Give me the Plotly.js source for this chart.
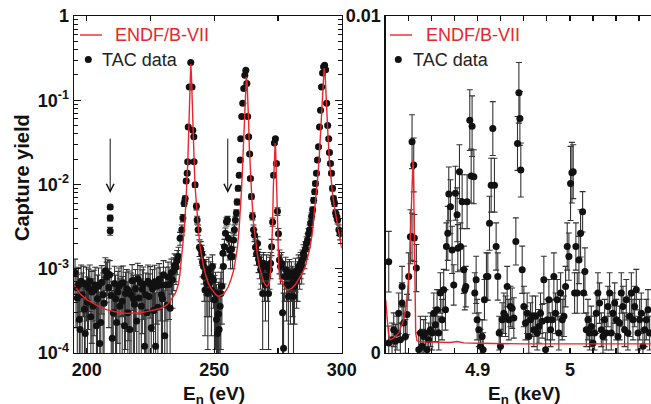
<!DOCTYPE html>
<html><head><meta charset="utf-8">
<script src="https://cdn.plot.ly/plotly-3.0.1.min.js"></script>
<style>html,body{margin:0;padding:0;overflow:hidden;background:#fff;width:651px;height:404px}</style>
</head><body><div id="chart" style="width:664px;height:404px"></div>
<script>
// ---------- Left panel: TAC data (E in eV, capture yield) ----------
const leftE = [195.4,195.8,196.3,196.7,197.1,197.4,197.8,198.2,198.7,199.1,199.4,199.9,200.3,200.7,201.2,201.6,202.0,202.5,202.9,203.3,203.8,204.2,204.6,205.1,205.5,205.9,206.4,206.8,207.3,207.8,208.2,208.7,209.0,209.2,209.2,209.2,209.6,210.0,210.4,210.9,211.3,211.7,212.2,212.6,213.0,213.5,213.9,214.3,214.8,215.2,215.7,216.1,216.5,216.9,217.4,217.8,218.3,218.7,219.1,219.6,220.0,220.5,220.9,221.4,221.8,222.2,222.7,223.1,223.6,224.0,224.4,224.9,225.3,225.8,226.2,226.6,227.0,227.5,227.9,228.4,228.8,229.3,229.7,230.1,230.6,231.0,231.5,231.9,232.3,232.7,233.2,233.6,234.1,234.5,235.0,235.5,236.0,
236.6,237.3,237.7,238.2,238.6,239.0,239.4,239.6,239.8,240.2,240.8,241.3,241.6,242.0,242.1,242.5,243.0,243.3,243.7,244.2,244.7,245.1,245.4,
245.8,246.1,246.4,246.8,247.1,247.5,247.9,248.1,248.5,248.9,249.3,249.7,250.1,250.5,250.9,251.3,251.7,251.9,252.3,252.6,253.0,253.4,253.6,254.0,254.4,254.8,255.2,255.6,256.0,256.4,256.8,257.2,257.6,257.9,258.3,258.7,259.0,259.4,259.8,
260.2,260.4,260.8,261.2,261.6,262.0,262.4,262.8,263.1,263.5,263.9,264.2,264.6,265.0,265.4,265.8,266.2,266.6,267.0,267.4,267.8,268.2,268.6,269.0,269.3,269.7,270.1,270.5,270.9,271.3,271.7,272.1,272.5,272.9,273.3,273.6,274.0,274.4,274.8,275.2,275.6,276.0,276.4,276.8,277.2,277.6,278.0,278.4,278.8,279.1,279.5,279.9,280.3,280.7,281.1,281.5,281.9,282.3,282.7,283.1,283.5,283.9,284.3,284.6,285.0,285.4,285.8,286.2,286.6,287.0,287.4,287.8,288.2,288.6,289.0,289.4,289.7,290.1,290.5,290.9,291.3,291.7,292.1,292.5,292.9,293.3,293.7,294.1,294.5,294.9,295.2,295.6,296.0,296.4,296.8,297.2,297.6,298.0,298.4,298.9,299.4];
const leftY = [0.00090,0.00060,0.00045,0.00064,0.00025,0.00019,0.00071,0.00049,0.00067,0.00033,0.00017,0.00064,0.00040,0.00059,0.00071,0.00027,0.00053,0.00036,0.00056,0.00064,0.00021,0.00044,0.00062,0.00013,0.00023,0.00069,0.00049,0.00039,0.00095,0.00080,0.00088,0.00060,0.00085,0.0054,0.0040,0.0028,0.00048,0.00015,0.00030,0.00067,0.00044,0.00023,0.00053,0.00062,0.00036,0.00067,0.00041,0.00068,0.00021,0.00051,0.00058,0.00030,0.00054,0.00019,0.00049,0.00072,0.00044,0.00038,0.00058,0.00024,0.00076,0.00045,0.00069,0.00036,0.00057,0.00065,0.00012,0.00049,0.00030,0.00071,0.00047,0.00066,0.00020,0.00058,0.00032,0.00070,0.00012,0.00062,0.00035,0.00075,0.00064,0.00049,0.00044,0.00085,0.00016,0.00064,0.00037,0.00080,0.00065,0.00034,0.00090,0.00074,0.00095,0.00110,0.00105,0.00125,0.0014,
0.0023,0.0029,0.0040,0.0060,0.0068,0.0110,0.0136,0.0186,0.048,0.144,0.28,0.144,0.044,0.037,0.0186,0.0099,0.0055,0.0038,0.0029,0.0018,0.0017,0.0015,0.0012,
0.00106,0.00081,0.00056,0.00089,0.00067,0.00051,0.00097,0.00067,0.00081,0.00056,0.00106,0.00074,0.00043,0.00051,0.00025,0.00017,0.00029,0.00019,0.00036,0.00051,0.00062,0.00153,0.00106,0.00183,0.00264,0.00362,0.00379,0.0023,0.00167,0.0014,0.0017,0.0014,0.0022,0.0029,0.0038,0.0046,0.0062,0.0090,0.0129,
0.0195,0.035,0.064,0.092,0.138,0.198,0.227,0.158,0.064,0.037,0.023,0.0118,0.0072,0.0042,0.0029,0.0025,0.0018,0.0015,0.0020,0.0013,0.00116,0.00097,0.00106,0.00051,0.00116,0.00081,0.00064,0.00106,0.00081,0.00051,0.00097,0.00116,0.00183,0.0036,0.0129,0.031,0.035,0.0178,0.0048,0.0026,0.00127,0.00106,0.00116,0.00030,0.000114,0.00081,0.00097,0.00064,0.00081,0.00047,0.00089,0.00062,0.00081,0.00067,0.00047,0.00062,0.00093,0.00074,0.00081,0.00106,0.00097,0.00116,0.00106,0.00127,0.00153,0.0014,0.0017,0.0020,0.0022,0.0026,0.0029,0.0035,0.0042,0.0050,0.0065,0.0082,0.0103,0.0136,0.0195,0.028,0.048,0.076,0.144,0.21,0.25,0.26,0.23,0.092,0.050,0.035,0.024,0.0178,0.0136,0.0090,0.0068,0.0060,0.0046,0.0042,0.0038,0.0029,0.0026];
const leftErr = [0.0004,0.0004,0.0004,0.0004,0.0004,0.0004,0.0004,0.0004,0.0004,0.0004,0.0004,0.0004,0.0004,0.0004,0.0004,0.0004,0.0004,0.0004,0.0004,0.0004,0.0004,0.0004,0.0004,0.0004,0.0004,0.0004,0.0004,0.0004,0.0004,0.0004,0.0004,0.0004,0.0004,0.0003,0.0003,0.0003,0.0004,0.0004,0.0004,0.0004,0.0004,0.0004,0.0004,0.0004,0.0004,0.0004,0.0004,0.0004,0.0004,0.0004,0.0004,0.0004,0.0004,0.0004,0.0004,0.0004,0.0004,0.0004,0.0004,0.0004,0.0004,0.0004,0.0004,0.0004,0.0004,0.0004,0.0004,0.0004,0.0004,0.0004,0.0004,0.0004,0.0004,0.0004,0.0004,0.0004,0.0004,0.0004,0.0004,0.0004,0.0004,0.0004,0.0004,0.0004,0.0004,0.0004,0.0004,0.0004,0.0004,0.0004,0.0004,0.0004,0.0004,0.0004,0.0004,0.0004,0.0004,
0.0004,0.0004,0.0004,0.0005,0.0005,0.0006,0.0007,0.0008,0.0015,0.004,0.007,0.004,0.0015,0.0012,0.0008,0.0006,0.0005,0.0004,0.0004,0.0004,0.0004,0.0004,0.0004,
0.0004,0.0004,0.0004,0.0004,0.0004,0.0004,0.0004,0.0004,0.0004,0.0004,0.0004,0.0004,0.0004,0.0004,0.0004,0.0004,0.0004,0.0004,0.0004,0.0004,0.0004,0.0004,0.0004,0.0004,0.0004,0.0004,0.0004,0.0004,0.0004,0.0004,0.0004,0.0004,0.0004,0.0004,0.0004,0.0004,0.0005,0.0006,0.0007,
0.0008,0.0012,0.002,0.003,0.004,0.005,0.006,0.004,0.002,0.0012,0.0008,0.0006,0.0005,0.0004,0.0004,0.0004,0.0004,0.0004,0.0004,0.0004,0.0004,0.0004,0.0004,0.0004,0.0004,0.0004,0.0004,0.0004,0.0004,0.0004,0.0004,0.0004,0.0004,0.0004,0.0007,0.0012,0.0012,0.0008,0.0005,0.0004,0.0004,0.0004,0.0004,0.0004,0.0004,0.0004,0.0004,0.0004,0.0004,0.0004,0.0004,0.0004,0.0004,0.0004,0.0004,0.0004,0.0004,0.0004,0.0004,0.0004,0.0004,0.0004,0.0004,0.0004,0.0004,0.0004,0.0004,0.0004,0.0004,0.0004,0.0004,0.0004,0.0004,0.0004,0.0005,0.0006,0.0006,0.0007,0.0008,0.001,0.0015,0.002,0.004,0.006,0.007,0.007,0.006,0.003,0.0015,0.0012,0.001,0.0008,0.0007,0.0006,0.0005,0.0005,0.0004,0.0004,0.0004,0.0004,0.0004];

// ---------- Left panel: ENDF/B-VII curve ----------
const endfLeftE = [195,197.5,200,202.5,205.2,208,210.5,213,215.7,218,220.9,223.5,226.1,228.5,230.1,231.5,232.7,233.8,234.7,235.4,236,236.5,237,237.5,237.9,238.3,238.6,238.9,239.25,239.6,239.9,240.1,240.3,240.55,240.8,241.05,241.3,241.6,241.9,242.2,242.5,243,243.4,244,244.5,245.2,245.8,246.7,247.7,248.7,249.7,250.7,251.7,252.6,253.6,254.6,255.6,256.6,257.5,258.3,259.1,259.7,260.2,260.7,261.1,261.4,261.7,262.0,262.2,262.4,262.6,262.9,263.2,263.5,263.8,264.3,264.8,265.4,266.1,266.9,267.7,268.5,269.3,270,270.6,271.2,271.7,272.2,272.6,272.9,273.2,273.5,273.7,273.9,274.1,274.4,274.7,275,275.3,275.6,276,276.5,277.2,278,278.5,279.5,280.5,281.8,283,284.4,285.7,286.7,287.6,288.5,289.2,289.9,290.5,291.1,291.6,292,292.4,292.8,293.1,293.5,293.9,294.3,294.7,295.2,295.8,296.4,297.1,297.9,298.7,299.4,300];
const endfLeftY = [6.4e-4,5.0e-4,4.3e-4,3.85e-4,3.5e-4,3.25e-4,3.1e-4,3.0e-4,2.95e-4,2.95e-4,3.0e-4,3.1e-4,3.2e-4,3.35e-4,3.5e-4,3.75e-4,4.1e-4,4.6e-4,5.1e-4,5.8e-4,6.7e-4,8.5e-4,1.16e-3,1.6e-3,2.2e-3,3.0e-3,4.2e-3,6.0e-3,9.4e-3,0.017,0.034,0.058,0.10,0.19,0.27,0.20,0.10,0.05,0.028,0.016,0.0094,0.0055,0.0038,0.0025,0.0018,0.0013,0.00106,8.3e-4,6.7e-4,5.9e-4,5.3e-4,4.9e-4,4.7e-4,4.8e-4,5.0e-4,5.5e-4,6.2e-4,7.5e-4,9.3e-4,1.25e-3,1.8e-3,2.8e-3,4.5e-3,8.5e-3,0.016,0.028,0.048,0.09,0.13,0.17,0.19,0.16,0.11,0.055,0.026,0.012,0.0065,0.0035,0.0022,0.0015,0.00106,8.6e-4,7.1e-4,6.5e-4,6.2e-4,6.4e-4,7.1e-4,1.0e-3,1.8e-3,3.5e-3,9.4e-3,0.019,0.027,0.031,0.026,0.0094,0.0040,0.0018,0.0011,8.1e-4,7.3e-4,7.4e-4,6.4e-4,5.8e-4,5.6e-4,5.7e-4,5.9e-4,6.5e-4,7.4e-4,8.7e-4,1.06e-3,1.35e-3,1.8e-3,2.7e-3,4.2e-3,6.8e-3,0.0113,0.019,0.034,0.058,0.10,0.18,0.24,0.20,0.10,0.055,0.034,0.019,0.0113,0.0078,0.0055,0.0039,0.0029,0.0022,0.00175];

// ---------- Right panel: TAC data (E in keV) ----------
const rightE = [4.8033,4.8033,4.8069,4.8087,4.8105,4.8123,4.8141,4.8159,4.8178,4.8178,4.8196,4.8214,4.8232,4.8250,4.8268,4.8286,4.8304,4.8286,4.8311,4.8333,4.8359,4.8377,4.8395,4.8413,4.8431,4.8449,4.8467,4.8486,4.8504,4.8522,4.8540,4.8558,4.8576,4.8594,4.8612,4.8630,4.8649,4.8659,4.8674,4.8685,4.8703,4.8721,4.8739,4.8757,4.8775,4.8783,4.8801,4.8812,4.8830,4.8848,4.8859,4.8870,4.8884,4.8913,4.8928,4.8938,4.8957,4.8967,4.8982,4.8993,4.9011,4.9029,4.9047,4.9058,4.9072,4.9094,4.9109,4.9127,4.9145,4.9163,4.9181,4.9199,4.9217,4.9232,4.9246,4.9264,4.9283,4.9301,4.9319,4.9337,4.9355,4.9373,4.9391,4.9413,4.9431,4.9446,4.9457,4.9467,4.9482,4.9500,4.9518,4.9536,4.9554,4.9572,4.9591,4.9609,4.9627,4.9645,4.9663,4.9681,4.9699,4.9717,4.9736,4.9754,4.9772,4.9790,4.9808,4.9826,4.9844,4.9862,4.9880,4.9899,4.9917,4.9935,4.9953,4.9971,4.9989,5.0007,5.0022,5.0036,5.0051,5.0065,5.0080,5.0098,5.0116,5.0138,5.0149,5.0163,5.0178,5.0196,5.0214,5.0232,5.0250,5.0268,5.0286,5.0304,5.0322,5.0341,5.0359,5.0377,5.0395,5.0413,5.0431,5.0449,5.0467,5.0486,5.0504,5.0522,5.0540,5.0558,5.0576,5.0594,5.0612,5.0630,5.0649,5.0667,5.0685,5.0703,5.0721,5.0739,5.0757,5.0775,5.0793,5.0812,5.0830,5.0848,5.0866];
const rightY = [0.00271,0.00030,0.00039,0.00069,0.00035,0.00059,0.00118,0.00039,0.00148,0.00197,0.00089,0.00049,0.00114,0.00227,0.00345,0.00627,0.00558,0.00345,0.00341,0.00252,0.00010,0.00059,0.00020,0.00049,0.00059,0.00010,0.00039,0.00069,0.00059,0.00118,0.00084,0.00128,0.00059,0.00178,0.00099,0.00188,0.00128,0.00316,0.00355,0.00472,0.00434,0.00306,0.00202,0.00474,0.00410,0.00311,0.00538,0.00316,0.00449,0.00247,0.00188,0.00197,0.00449,0.00691,0.00525,0.00673,0.00523,0.00178,0.00217,0.00099,0.00069,0.00020,0.00049,0.00010,0.00158,0.00227,0.00227,0.00385,0.00498,0.00666,0.00498,0.00316,0.00227,0.00059,0.00020,0.00099,0.00118,0.00109,0.00197,0.00099,0.00138,0.00133,0.00104,0.00331,0.00622,0.00772,0.00696,0.00543,0.00247,0.00138,0.00089,0.00118,0.00049,0.00099,0.00109,0.00069,0.00109,0.00059,0.00079,0.00118,0.00094,0.00217,0.00010,0.00099,0.00158,0.00069,0.00099,0.00227,0.00118,0.00158,0.00059,0.00178,0.00099,0.00109,0.00197,0.00316,0.00286,0.00503,0.00535,0.00538,0.00178,0.00316,0.00178,0.00276,0.00355,0.00419,0.00178,0.00242,0.00069,0.00099,0.00059,0.00079,0.00030,0.00059,0.00118,0.00178,0.00148,0.00069,0.00049,0.00099,0.00059,0.00138,0.00178,0.00059,0.00118,0.00148,0.00099,0.00049,0.00089,0.00178,0.00138,0.00069,0.00158,0.00059,0.00109,0.00178,0.00099,0.00138,0.00188,0.00059,0.00099,0.00118,0.00020,0.00069,0.00099,0.00128,0.00059];
const rightErr = [0.0009,0.0005,0.0005,0.0005,0.0005,0.0005,0.0006,0.0005,0.0006,0.0006,0.0005,0.0005,0.0006,0.0007,0.0008,0.0008,0.0008,0.0007,0.0007,0.0007,0.0005,0.0005,0.0005,0.0005,0.0005,0.0005,0.0005,0.0005,0.0005,0.0006,0.0005,0.0006,0.0005,0.0006,0.0006,0.0006,0.0006,0.0007,0.0008,0.0008,0.0008,0.0007,0.0006,0.0008,0.0008,0.0007,0.0008,0.0007,0.0008,0.0007,0.0006,0.0006,0.0008,0.0009,0.0008,0.0009,0.0008,0.0006,0.0007,0.0006,0.0005,0.0005,0.0005,0.0005,0.0006,0.0007,0.0007,0.0008,0.0008,0.0008,0.0008,0.0007,0.0007,0.0005,0.0005,0.0005,0.0006,0.0006,0.0006,0.0006,0.0006,0.0006,0.0006,0.0007,0.0008,0.0009,0.0008,0.0008,0.0007,0.0006,0.0005,0.0006,0.0005,0.0005,0.0006,0.0005,0.0006,0.0005,0.0005,0.0006,0.0005,0.0007,0.0005,0.0006,0.0006,0.0005,0.0006,0.0007,0.0006,0.0006,0.0005,0.0006,0.0006,0.0006,0.0006,0.0007,0.0007,0.0011,0.0009,0.0008,0.0006,0.0007,0.0006,0.0007,0.0007,0.0006,0.0006,0.0007,0.0005,0.0006,0.0005,0.0006,0.0005,0.0005,0.0006,0.0006,0.0006,0.0005,0.0005,0.0006,0.0005,0.0006,0.0006,0.0005,0.0006,0.0006,0.0006,0.0005,0.0005,0.0006,0.0006,0.0005,0.0006,0.0005,0.0006,0.0006,0.0006,0.0006,0.0006,0.0005,0.0006,0.0006,0.0005,0.0005,0.0006,0.0006,0.0005];

// ---------- Right panel: ENDF/B-VII curve ----------
const endfRightE = [4.8,4.8011,4.8029,4.8047,4.8087,4.8141,4.8196,4.8232,4.8257,4.8275,4.829,4.8297,4.8304,4.8312,4.8319,4.8326,4.834,4.836,4.84,4.85,4.86,4.87,4.8776,4.885,4.9,4.92,4.95,5.0,5.05,5.1];
const endfRightY = [0.00158,0.00108,0.00059,0.00039,0.00044,0.00059,0.00099,0.00158,0.00257,0.00405,0.00573,0.00575,0.0049,0.00355,0.0018,0.00059,0.00037,0.00034,0.00033,0.00032,0.00031,0.00031,0.00034,0.00030,0.00029,0.00028,0.00027,0.00027,0.00027,0.00027];

// ---------- Axis ticks and labels ----------
const xLeftTicks = [200,250,300];
const xLeftTickText = ['200','250','300'];
const yLeftTicks = [1e-4,1e-3,1e-2,1e-1,1];
const yLeftTickText = ['10<sup>-4</sup>','10<sup>-3</sup>','10<sup>-2</sup>','10<sup>-1</sup>','1'];
const xRightTicks = [4.9,5.0];
const xRightTickText = ['4.9','5'];
const yRightTicks = [0,0.01];
const yRightTickText = ['0','0.01'];
const arrowE = [209.2,255.3];
const arrowY = [0.0079,0.0079];
const legendNames = ['ENDF/B-VII','TAC data'];

const FONT = 'Liberation Sans, Arial, Helvetica, sans-serif';
const RED = '#e8262b';
const INK = '#111111';

function axisBase(){
  return {showline:true, linecolor:INK, linewidth:1.4, mirror:'ticks', ticks:'inside', tickcolor:INK,
    tickwidth:1.2, showgrid:false, zeroline:false,
    tickfont:{family:FONT, size:18, color:INK, weight:'bold'}};
}

const dataStyle = {color:INK, size:7};
const errStyle = {type:'data', visible:true, color:'#333', thickness:1.1, width:3};

const traces = [
  {type:'scatter', mode:'markers', x:leftE, y:leftY, xaxis:'x', yaxis:'y', marker:dataStyle,
   error_y:Object.assign({array:leftErr}, errStyle), hoverinfo:'skip'},
  {type:'scatter', mode:'lines', x:endfLeftE, y:endfLeftY, xaxis:'x', yaxis:'y', line:{color:RED, width:1.4}, hoverinfo:'skip'},
  {type:'scatter', mode:'markers', x:rightE, y:rightY, xaxis:'x2', yaxis:'y2', marker:dataStyle,
   error_y:Object.assign({array:rightErr}, errStyle), hoverinfo:'skip'},
  {type:'scatter', mode:'lines', x:endfRightE, y:endfRightY, xaxis:'x2', yaxis:'y2', line:{color:RED, width:1.4}, hoverinfo:'skip'}
];

// layout geometry (pixels)
const W = 664, H = 404, ML = 74, MR = 2, MT = 16, MB = 51;
const PW = W - ML - MR, PH = H - MT - MB;
const px = v => (v - ML) / PW;
const py = v => (H - MB - v) / PH;

const annotations = [];
arrowE.forEach((e, i) => annotations.push({xref:'x', yref:'y', x:e, y:Math.log10(arrowY[i]), ax:0, ay:-56,
  showarrow:true, arrowhead:5, arrowsize:1.5, arrowwidth:1, arrowcolor:INK, text:''}));

// legend texts (two panels)
const legendPos = [{line:[80,102], dot:88.3, txt0:113, txt1:100}, {line:[390,412], dot:398.3, txt0:424, txt1:411}];
const shapes = [];
legendPos.forEach(p => {
  shapes.push({type:'line', xref:'paper', yref:'paper', x0:px(p.line[0]), x1:px(p.line[1]), y0:py(35), y1:py(35), line:{color:RED, width:1.4}});
  shapes.push({type:'circle', xref:'paper', yref:'paper', x0:px(p.dot-3.5), x1:px(p.dot+3.5), y0:py(63), y1:py(56), fillcolor:INK, line:{width:0}});
  annotations.push({xref:'paper', yref:'paper', x:px(p.txt0), y:py(35), xanchor:'left', yanchor:'middle', showarrow:false,
    text:legendNames[0], font:{family:FONT, size:18, color:RED}});
  annotations.push({xref:'paper', yref:'paper', x:px(p.txt1), y:py(60), xanchor:'left', yanchor:'middle', showarrow:false,
    text:legendNames[1], font:{family:FONT, size:18, color:'#222'}});
});

// axis titles
annotations.push({xref:'paper', yref:'paper', x:px(22), y:py(178), xanchor:'center', yanchor:'middle', textangle:-90, showarrow:false,
  text:'Capture yield', font:{family:FONT, size:20, color:INK, weight:'bold'}});
annotations.push({xref:'paper', yref:'paper', x:px(214), y:py(395), xanchor:'center', yanchor:'middle', showarrow:false,
  text:'E<sub>n</sub> (eV)', font:{family:FONT, size:19, color:INK, weight:'bold'}});
annotations.push({xref:'paper', yref:'paper', x:px(524), y:py(395), xanchor:'center', yanchor:'middle', showarrow:false,
  text:'E<sub>n</sub> (keV)', font:{family:FONT, size:19, color:INK, weight:'bold'}});

const layout = {
  width:W, height:H, margin:{l:ML, r:MR, t:MT, b:MB},
  paper_bgcolor:'#ffffff', plot_bgcolor:'#ffffff', showlegend:false,
  xaxis:Object.assign(axisBase(), {domain:[0, px(341.7)], range:[195,300], anchor:'y',
    tickmode:'array', tickvals:xLeftTicks, ticktext:xLeftTickText, ticklen:5,
    minor:{tickmode:'linear', tick0:200, dtick:25, ticks:'inside', ticklen:5, tickcolor:INK, tickwidth:1.2}}),
  yaxis:Object.assign(axisBase(), {type:'log', range:[-4,0], anchor:'x',
    tickmode:'array', tickvals:yLeftTicks, ticktext:yLeftTickText, ticklen:7,
    minor:{dtick:'D1', ticks:'inside', ticklen:4, tickcolor:INK, tickwidth:1}}),
  xaxis2:Object.assign(axisBase(), {domain:[px(385.7), 1], range:[4.8,5.1], anchor:'y2',
    tickmode:'array', tickvals:xRightTicks, ticktext:xRightTickText, ticklen:5,
    minor:{tickmode:'linear', tick0:4.8, dtick:0.025, ticks:'inside', ticklen:5, tickcolor:INK, tickwidth:1.2}}),
  yaxis2:Object.assign(axisBase(), {range:[0,0.01], anchor:'x2',
    tickmode:'array', tickvals:yRightTicks, ticktext:yRightTickText, ticklen:6}),
  annotations:annotations, shapes:shapes
};

Plotly.newPlot('chart', traces, layout, {staticPlot:true, displayModeBar:false});
</script>
</body></html>
